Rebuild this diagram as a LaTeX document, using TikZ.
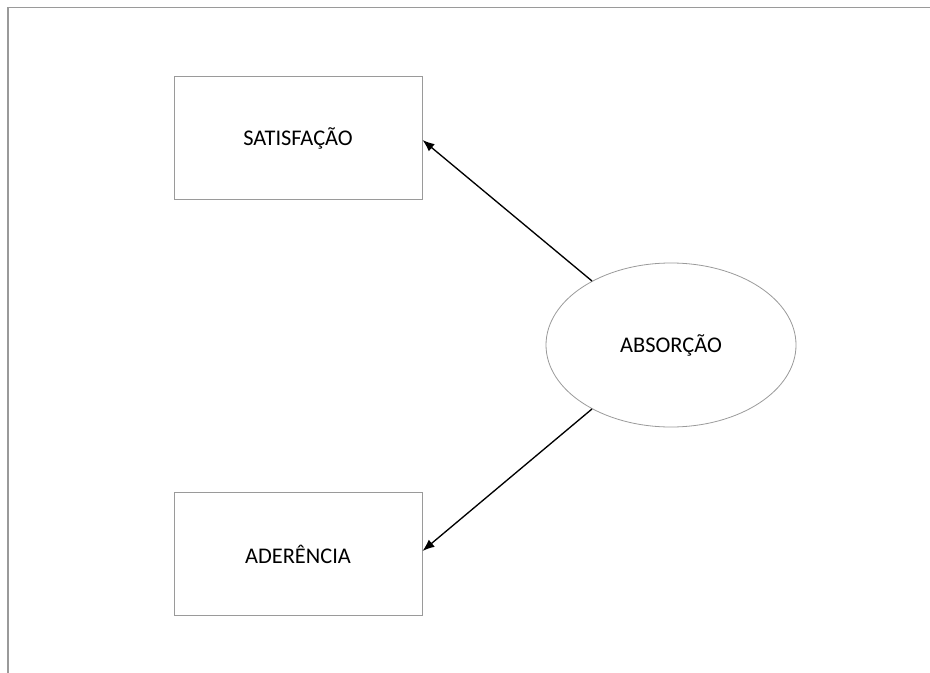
\documentclass[tikz,border=0pt]{standalone}
\usepackage{fontspec}
\setmainfont{Carlito}
\usetikzlibrary{arrows.meta,shapes.geometric}
\definecolor{edgegray}{HTML}{9A9A9A}
\begin{document}
\begin{tikzpicture}[x=0.75pt,y=-0.75pt,
  box/.style={draw=edgegray,line width=0.75pt,minimum width=186pt,minimum height=92.25pt,inner sep=0pt,font=\fontsize{16.8}{19}\selectfont},
  oval/.style={ellipse,draw=edgegray,line width=0.6pt,minimum width=187.5pt,minimum height=123pt,inner sep=0pt,font=\fontsize{16.8}{19}\selectfont},
  link/.style={-{Latex[length=9pt,width=7pt]},line width=1pt,black}]
  \useasboundingbox (0,0) rectangle (930,673);
  % page frame
  \draw[edgegray,line width=1.1pt] (8,673) -- (8,7.5) -- (930,7.5);
  % nodes
  \node[box] (sat) at (298,138.5) {SATISFAÇÃO};
  \node[box] (ade) at (298,554) {ADERÊNCIA};
  \node[oval] (abs) at (671,345) {ABSORÇÃO};
  % connectors
  \draw[link] (abs.141) -- (sat.east |- 0,140);
  \draw[link] (abs.219) -- (ade.east |- 0,551);
\end{tikzpicture}
\end{document}
